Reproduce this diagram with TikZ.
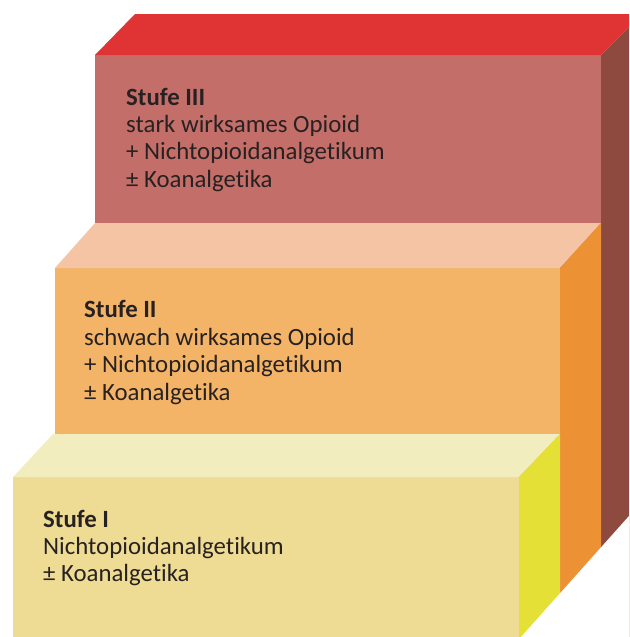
\documentclass[tikz,border=0pt]{standalone}
\usepackage{fontspec}
\setmainfont[Ligatures=NoCommon]{Carlito}

% colours of the three steps
\definecolor{threeTop}{RGB}{224,51,52}
\definecolor{threeFront}{RGB}{196,110,106}
\definecolor{threeSide}{RGB}{142,74,62}
\definecolor{twoTop}{RGB}{245,196,165}
\definecolor{twoFront}{RGB}{243,180,104}
\definecolor{twoSide}{RGB}{236,146,52}
\definecolor{oneTop}{RGB}{242,237,190}
\definecolor{oneFront}{RGB}{238,220,148}
\definecolor{oneSide}{RGB}{229,224,54}
\definecolor{textdark}{RGB}{40,33,33}

\begin{document}
\begin{tikzpicture}[x=1pt,y=-1pt,
  steplabel/.style={anchor=base west, inner sep=0pt, align=left,
    font=\fontsize{24.8}{27.4}\selectfont, text=textdark}]
\useasboundingbox (0,0) rectangle (629,637);
\begin{scope}
\clip (0,0) rectangle (629,637);
% Stufe III block
\fill[threeFront] (95,55) rectangle (601,640);
\fill[threeTop] (95,55) -- (135,14) -- (642,14) -- (601,55) -- cycle;
\fill[threeSide] (601,55) -- (642,14) -- (642,640) -- (601,640) -- cycle;
% Stufe II block
\fill[twoFront] (55,268) rectangle (560,640);
\fill[twoTop] (55,268) -- (95,223) -- (601,223) -- (560,268) -- cycle;
\fill[twoSide] (560,268) -- (601,223) -- (601,640) -- (560,640) -- cycle;
% Stufe I block
\fill[oneFront] (13,477) rectangle (519,640);
\fill[oneTop] (13,477) -- (53,434) -- (560,434) -- (519,477) -- cycle;
\fill[oneSide] (519,477) -- (560,434) -- (560,640) -- (519,640) -- cycle;
% diagonal cut at the lower right
\fill[white] (629,516) -- (640,516) -- (640,640) -- (521,640) -- (521,637) -- cycle;
\end{scope}

% labels: the node's base is the baseline of its last line
\node[steplabel] (s3) at (126,187.2) {\textbf{Stufe III}\\stark wirksames Opioid\\+ Nichtopioidanalgetikum\\± Koanalgetika};
\node[steplabel] (s2) at (84,400) {\textbf{Stufe II}\\schwach wirksames Opioid\\+ Nichtopioidanalgetikum\\± Koanalgetika};
\node[steplabel] (s1) at (43,581.8) {\textbf{Stufe I}\\Nichtopioidanalgetikum\\± Koanalgetika};
\end{tikzpicture}
\end{document}
